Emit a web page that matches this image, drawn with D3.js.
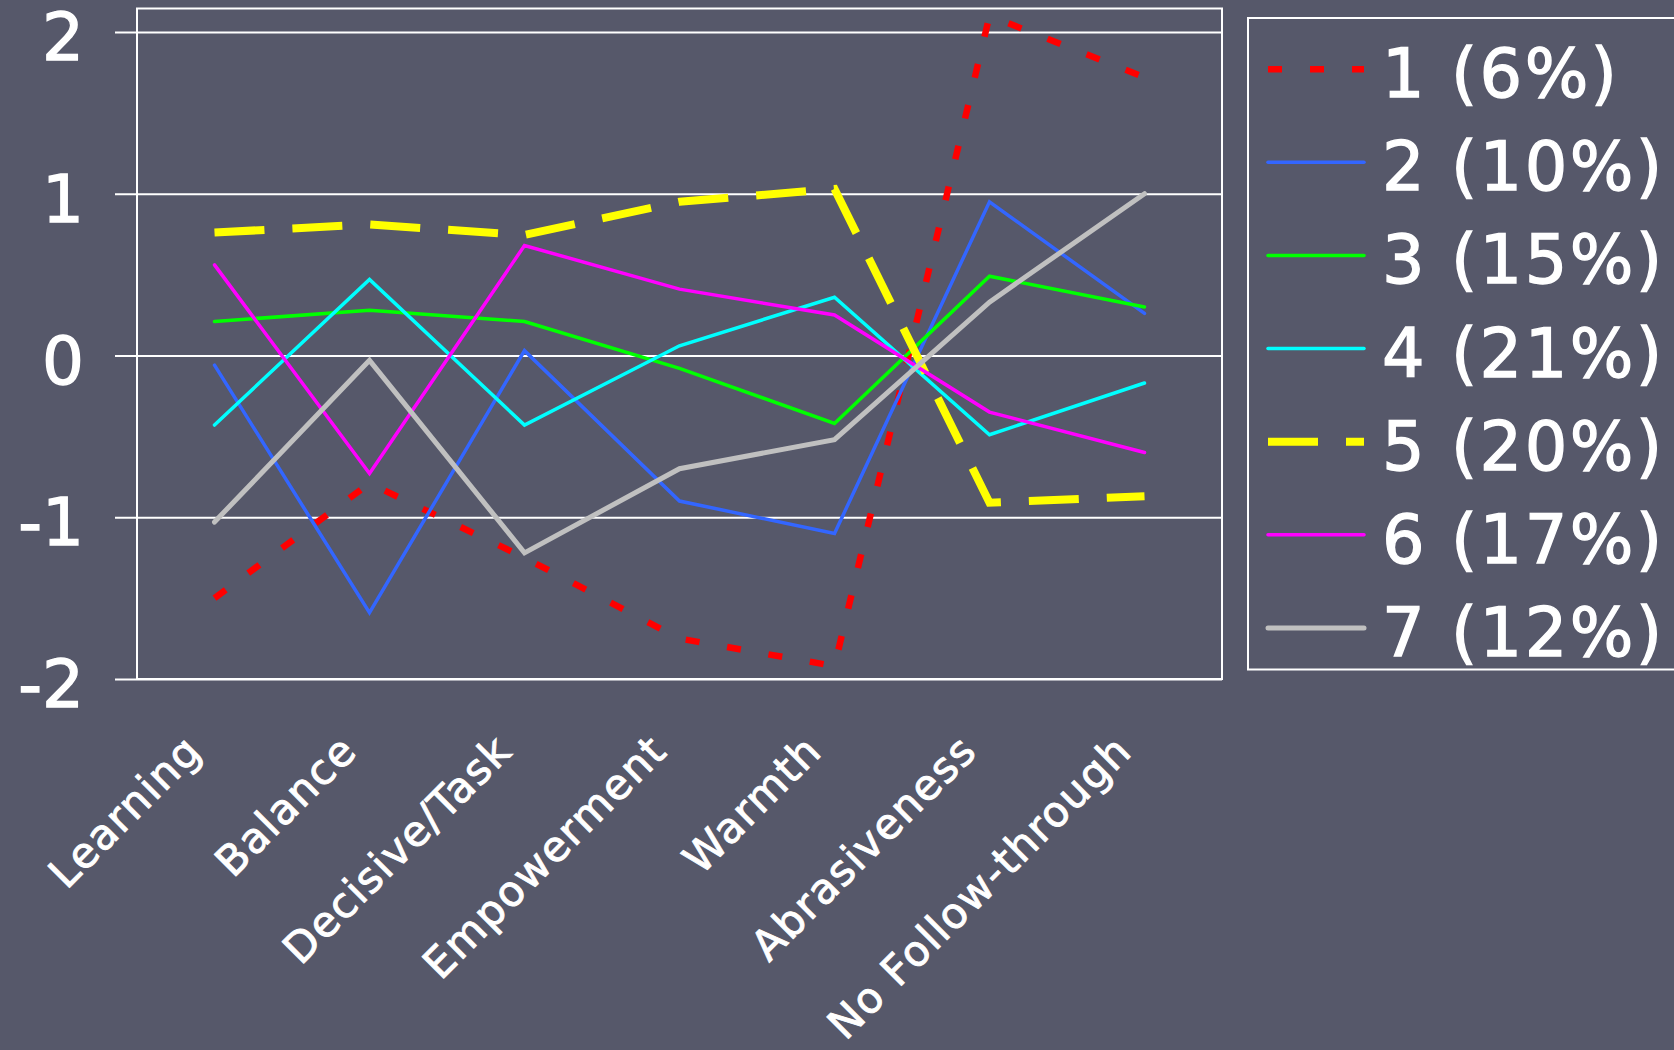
<!DOCTYPE html>
<html>
<head>
<meta charset="utf-8">
<script src="https://cdn.jsdelivr.net/npm/d3@7"></script>
<style>
  html, body { margin: 0; padding: 0; background: #56586a; }
  svg { display: block; }
  text { font-family: "DejaVu Sans", Verdana, sans-serif; fill: #ffffff; stroke: #ffffff; }
</style>
</head>
<body>
<svg id="chart" width="1674" height="1050"></svg>
<script>
const categories = ["Learning", "Balance", "Decisive/Task", "Empowerment", "Warmth", "Abrasiveness", "No Follow-through"];
const seriesNames = ["1 (6%)", "2 (10%)", "3 (15%)", "4 (21%)", "5 (20%)", "6 (17%)", "7 (12%)"];
const s1 = [-1.50, -0.79, -1.25, -1.75, -1.92, 2.10, 1.72];
const s2 = [-0.06, -1.59, 0.03, -0.90, -1.10, 0.95, 0.26];
const s3 = [0.21, 0.28, 0.21, -0.08, -0.42, 0.49, 0.30];
const s4 = [-0.43, 0.47, -0.43, 0.06, 0.36, -0.49, -0.17];
const s5 = [0.76, 0.81, 0.745, 0.95, 1.03, -0.91, -0.87];
const s6 = [0.56, -0.73, 0.68, 0.41, 0.25, -0.35, -0.60];
const s7 = [-1.03, -0.03, -1.22, -0.70, -0.52, 0.33, 1.00];
const seriesValues = [s1, s2, s3, s4, s5, s6, s7];
const yTicks = [-2, -1, 0, 1, 2];
const yTickLabels = ["-2", "-1", "0", "1", "2"];

const colors = ["#ff0000", "#3366ff", "#00ff00", "#00ffff", "#ffff00", "#ff00ff", "#c0c0c0"];
const dashes = ["14 28", null, null, null, "50 28", null, null];
const widths = [6.5, 3.5, 3.5, 3.5, 8, 3.5, 5];

const svg = d3.select("#chart");
const plot = { left: 137, right: 1222, top: 8.5, bottom: 679 };

const x = d3.scalePoint().domain(categories).range([plot.left, plot.right]).padding(0.5);
const y = d3.scaleLinear().domain([-2, 2.145]).range([plot.bottom, plot.top]);

// frame
svg.append("rect")
  .attr("x", plot.left).attr("y", plot.top)
  .attr("width", plot.right - plot.left).attr("height", plot.bottom - plot.top)
  .attr("fill", "none").attr("stroke", "#ffffff").attr("stroke-width", 2);

// y axis with gridlines
const yAxis = d3.axisLeft(y)
  .tickValues(yTicks)
  .tickFormat((d, i) => yTickLabels[i])
  .tickSize(plot.right - 115)
  .tickPadding(31);
const gy = svg.append("g").attr("transform", `translate(${plot.right},0)`).call(yAxis);
gy.select(".domain").remove();
gy.selectAll(".tick line").attr("stroke", "#ffffff").attr("stroke-width", 2);
gy.selectAll(".tick text")
  .attr("fill", "#ffffff")
  .style("font-size", "66px")
  .style("stroke-width", "1.3px")
  .attr("dy", "0.42em");

// x axis labels
const xAxis = d3.axisBottom(x).tickSize(0).tickPadding(0);
const gx = svg.append("g").attr("transform", `translate(0,${plot.bottom})`).call(xAxis);
gx.select(".domain").remove();
gx.selectAll(".tick text")
  .attr("x", 0).attr("y", 0).attr("dy", 0)
  .attr("fill", "#ffffff")
  .attr("text-anchor", "end")
  .style("font-size", "42px")
  .style("letter-spacing", "1.5px")
  .style("stroke-width", "0.9px")
  .attr("transform", "translate(-11,74) rotate(-45)");

// lines
const line = d3.line()
  .x((d, i) => x(categories[i]))
  .y(d => y(d));

seriesValues.forEach((vals, i) => {
  svg.append("path")
    .datum(vals)
    .attr("d", line)
    .attr("fill", "none")
    .attr("stroke", colors[i])
    .attr("stroke-width", widths[i])
    .attr("stroke-dasharray", dashes[i])
    .attr("stroke-linecap", dashes[i] ? "butt" : "round")
    .attr("stroke-linejoin", "miter");
});

// legend
const lg = svg.append("g");
lg.append("rect")
  .attr("x", 1248).attr("y", 18)
  .attr("width", 460).attr("height", 651.5)
  .attr("fill", "none").attr("stroke", "#ffffff").attr("stroke-width", 2);

const legendY = d3.scaleLinear().domain([0, 6]).range([69.2, 628]);
seriesNames.forEach((name, i) => {
  const yy = legendY(i);
  lg.append("line")
    .attr("x1", 1268).attr("x2", 1364)
    .attr("y1", yy).attr("y2", yy)
    .attr("stroke", colors[i])
    .attr("stroke-width", widths[i])
    .attr("stroke-dasharray", dashes[i])
    .attr("stroke-linecap", dashes[i] ? "butt" : "round");
  lg.append("text")
    .attr("x", 1382).attr("y", yy + 28)
    .style("font-size", "67px")
    .style("letter-spacing", "2.5px")
    .style("stroke-width", "1.3px")
    .text(name);
});
</script>
</body>
</html>
